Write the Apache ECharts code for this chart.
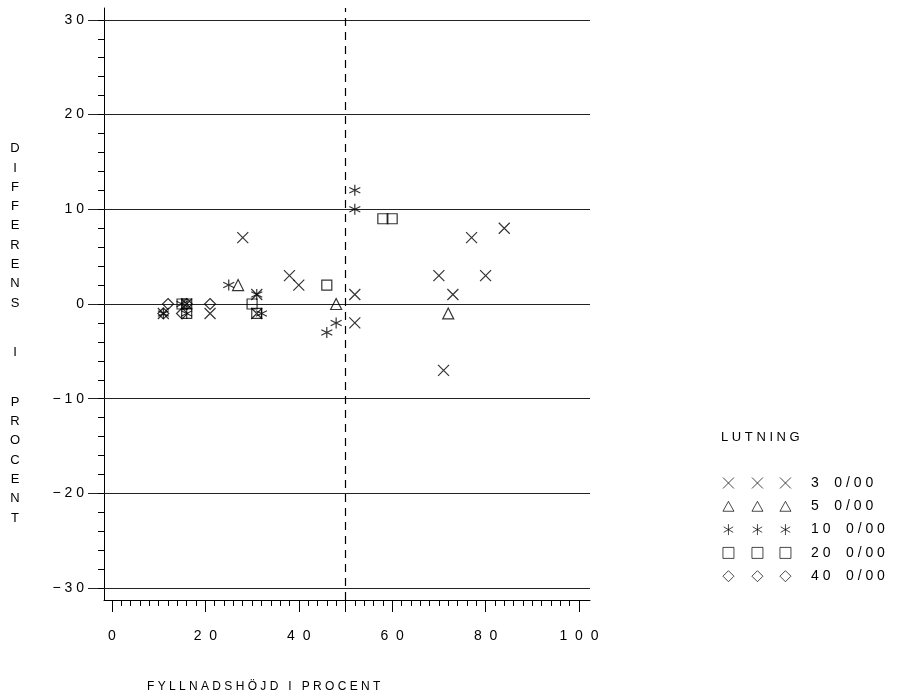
<!DOCTYPE html>
<html><head><meta charset="utf-8">
<script src="https://cdn.jsdelivr.net/npm/echarts@6/dist/echarts.min.js"></script>
<style>html,body{margin:0;padding:0;background:#fff}#c{width:902px;height:694px}</style>
</head><body><div id="c"></div>
<script>
// ---- data ----
const seriesNames = ['3 0/00', '5 0/00', '10 0/00', '20 0/00', '40 0/00'];
const cross3    = [[11,-1],[16,0],[21,-1],[28,7],[31,1],[31,-1],[38,3],[40,2],[52,1],[52,-2],[70,3],[71,-7],[73,1],[77,7],[80,3],[84,8]];
const triangle5 = [[27,2],[48,0],[72,-1]];
const star10    = [[11,-1],[15,0],[16,-1],[25,2],[31,1],[32,-1],[46,-3],[48,-2],[52,10],[52,12]];
const square20  = [[15,0],[16,-1],[16,0],[30,0],[31,-1],[46,2],[58,9],[60,9]];
const diamond40 = [[12,0],[11,-1],[15,-1],[16,0],[21,0]];
const xMajorTicks = [0, 20, 40, 60, 80, 100];
const yMajorTicks = [-30, -20, -10, 0, 10, 20, 30];
const refLineX = 50;
const xTitle = 'FYLLNADSHÖJD I PROCENT';
const yTitle = 'DIFFERENS I PROCENT';
const legendTitle = 'LUTNING';

// minor tick positions (every 2 units)
const xMinorTicks = []; for (let v = 0; v <= 100; v += 2) xMinorTicks.push(v);
const yMinorTicks = []; for (let v = -30; v <= 30; v += 2) yMinorTicks.push(v);

const FONT = 'Liberation Sans, Arial, sans-serif';
function spaced(s, sep) {
  return String(s).replace('-', '−').split('').map(c => c === ' ' ? '  ' : c).join(sep);
}

const symbols = {
  cross: 'path://M0,0L10,10M10,0L0,10',
  triangle: 'path://M5,0L10,9L0,9Z',
  star: 'path://M5,0L5,10M0.67,2.5L9.33,7.5M0.67,7.5L9.33,2.5',
  square: 'path://M0,0L10,0L10,10L0,10Z',
  diamond: 'path://M5,0L10,5L5,10L0,5Z'
};
const markStyle = { color: 'rgba(0,0,0,0)', borderColor: '#000', borderWidth: 1.2 };

function scatter(name, data, sym, size) {
  return { name, type: 'scatter', data, symbol: sym, symbolSize: size,
    itemStyle: markStyle, emphasis: { disabled: true }, z: 5 };
}

const series = [
  scatter(seriesNames[0], cross3, symbols.cross, 11),
  scatter(seriesNames[1], triangle5, symbols.triangle, [11, 11]),
  scatter(seriesNames[2], star10, symbols.star, [11, 11]),
  scatter(seriesNames[3], square20, symbols.square, 10),
  scatter(seriesNames[4], diamond40, symbols.diamond, [11, 11])
];
series[0].markLine = {
  silent: true, symbol: ['none', 'none'], label: { show: false }, animation: false,
  lineStyle: { color: '#222', width: 1, type: 'solid' },
  data: yMajorTicks.map(v => ({ yAxis: v })).concat([
    { xAxis: refLineX, lineStyle: { color: '#000', width: 1.2, type: [8, 6] } }
  ])
};

// vertical y title with word gaps
const yLines = [];
yTitle.split(' ').forEach((w, i) => {
  if (i > 0) yLines.push('{g| }');
  w.split('').forEach(ch => yLines.push(ch));
});

function legendCfg(left, withText) {
  return {
    orient: 'vertical', left: left, top: 470, selectedMode: false,
    itemWidth: 11, itemHeight: 11, itemGap: 7.3,
    data: seriesNames,
    itemStyle: { color: 'rgba(0,0,0,0)', borderColor: '#000', borderWidth: 0.9 },
    formatter: withText ? (n => spaced(n, ' ')) : (() => ' '),
    textStyle: { fontFamily: FONT, fontSize: 14, lineHeight: 16, color: '#000',
      padding: withText ? [0, 0, 0, 15] : 0 }
  };
}

const lineOff = { show: false, onZero: false };
const chart = echarts.init(document.getElementById('c'), null, { renderer: 'canvas' });
chart.setOption({
  animation: false,
  backgroundColor: '#fff',
  grid: { left: 104, top: 8, width: 486, height: 592, containLabel: false, outerBoundsMode: 'none' },
  xAxis: [
    { type: 'value', position: 'bottom', min: -1.71, max: 102.36,
      axisLine: { show: true, onZero: false, lineStyle: { color: '#000', width: 1 } },
      axisTick: { show: true, customValues: xMajorTicks.concat([refLineX]), length: 12, lineStyle: { color: '#000', width: 1 } },
      axisLabel: { show: true, customValues: xMajorTicks, margin: 29, color: '#000', fontFamily: FONT, fontSize: 14,
        formatter: v => spaced(v, '  ') },
      splitLine: { show: false } },
    { type: 'value', position: 'bottom', min: -1.71, max: 102.36,
      axisLine: lineOff,
      axisTick: { show: true, customValues: xMinorTicks, length: 6, lineStyle: { color: '#000', width: 1 } },
      axisLabel: { show: false }, splitLine: { show: false } }
  ],
  yAxis: [
    { type: 'value', position: 'left', min: -31.25, max: 31.25,
      axisLine: { show: true, onZero: false, lineStyle: { color: '#000', width: 1 } },
      axisTick: { show: true, customValues: yMajorTicks, length: 16, lineStyle: { color: '#222', width: 1 } },
      axisLabel: { show: true, customValues: yMajorTicks, margin: 20, color: '#000', fontFamily: FONT, fontSize: 14,
        formatter: v => spaced(v, ' ') },
      splitLine: { show: false } },
    { type: 'value', position: 'left', min: -31.25, max: 31.25,
      axisLine: lineOff,
      axisTick: { show: true, customValues: yMinorTicks, length: 6, lineStyle: { color: '#000', width: 1 } },
      axisLabel: { show: false }, splitLine: { show: false } }
  ],
  legend: [legendCfg(717.5, false), legendCfg(746.5, false), legendCfg(774.5, true)],
  graphic: [
    { type: 'text', x: 15, y: 139, silent: true,
      style: { text: yLines.join('\n'), font: '13px ' + FONT, lineHeight: 19.3, fill: '#000',
        align: 'center', verticalAlign: 'top', rich: { g: { lineHeight: 30.3, fontSize: 13 } } } },
    { type: 'text', x: 147, y: 687, silent: true,
      style: { text: xTitle.split(' ').map(w => w.split('').join(' ')).join('   '), font: '12px ' + FONT,
        fill: '#000', align: 'left', verticalAlign: 'middle' } },
    { type: 'text', x: 721, y: 437, silent: true,
      style: { text: legendTitle.split('').join(' '), font: '13px ' + FONT,
        fill: '#000', align: 'left', verticalAlign: 'middle' } }
  ],
  series: series
});
</script>
</body></html>
